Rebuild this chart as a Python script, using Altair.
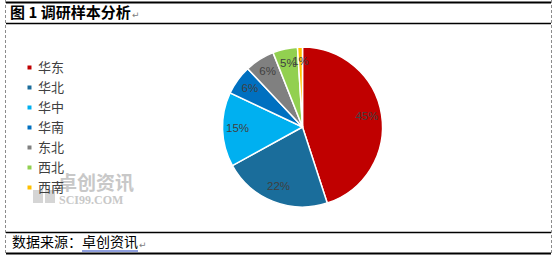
import altair as alt
import pandas as pd

regions = ["华东", "华北", "华中", "华南", "东北", "西北", "西南"]
shares = [45, 22, 15, 6, 6, 5, 1]
labels = ["45%", "22%", "15%", "6%", "6%", "5%", "1%"]
colors = ["#C00000", "#1A6D9B", "#00B0F0", "#0070C0", "#808080", "#92D050", "#FFC000"]

title_text = "图 1 调研样本分析"
source_prefix = "数据来源："
source_name = "卓创资讯"

df = pd.DataFrame({"region": regions, "share": shares, "label": labels,
                   "idx": list(range(len(regions)))})
one = pd.DataFrame({"k": [0]})

CX, CY, R = 302.5, 127, 80

base = alt.Chart(df).encode(
    theta=alt.Theta("share:Q", stack=True),
    order=alt.Order("idx:Q", sort="ascending"),
)

pie = base.mark_arc(outerRadius=R, stroke="white", strokeWidth=1.5).encode(
    x=alt.value(CX), y=alt.value(CY),
    color=alt.Color("region:N", sort=regions,
                    scale=alt.Scale(domain=regions, range=colors),
                    legend=alt.Legend(title=None, orient="none", legendX=23, legendY=61,
                                      symbolType="square", symbolSize=16,
                                      symbolStrokeWidth=0,
                                      labelFontSize=13, labelFont="Noto Sans CJK SC",
                                      labelColor="#404040", rowPadding=6.0,
                                      labelOffset=2)),
)

pct = base.mark_text(radius=65, fontSize=11.5, font="Liberation Sans", color="#404040").encode(
    x=alt.value(CX), y=alt.value(CY), text="label:N",
)

def txt(t, x, y, size, color="#000000", weight="normal", font="Noto Sans CJK SC", align="left"):
    return alt.Chart(one).mark_text(text=t, fontSize=size, color=color, fontWeight=weight,
                                    font=font, align=align, baseline="middle").encode(
        x=alt.value(x), y=alt.value(y))

def rule(x, x2, y, y2, color="#000000", width=1.5, dash=None):
    kw = dict(color=color, strokeWidth=width)
    if dash:
        kw["strokeDash"] = dash
    return alt.Chart(one).mark_rule(**kw).encode(
        x=alt.value(x), x2=alt.value(x2), y=alt.value(y), y2=alt.value(y2))

# watermark
logo1 = alt.Chart(one).mark_rect(color="#d0d0d0", opacity=0.9).encode(
    x=alt.value(33), x2=alt.value(43), y=alt.value(190), y2=alt.value(203))
logo2 = alt.Chart(one).mark_rect(color="#d0d0d0", opacity=0.9).encode(
    x=alt.value(45), x2=alt.value(55), y=alt.value(190), y2=alt.value(203))
wm1 = txt("卓创资讯", 58, 184, 19, color="#c8c8c8", weight="bold")
wm2 = txt("SCI99.COM", 59, 199.5, 12, color="#c8c8c8", weight="bold", font="Liberation Serif")

layers = [
    logo1, logo2, wm1, wm2,
    pie, pct,
    rule(6, 551, 2.5, 2.5, width=2),
    rule(6, 551, 23.5, 23.5, width=1.5),
    rule(6, 551, 232.5, 232.5, width=1.5),
    rule(6, 551, 253.5, 253.5, width=2),
    rule(5.5, 5.5, 0, 255, color="#8c8c8c", width=1, dash=[3, 2]),
    rule(551.5, 551.5, 0, 255, color="#8c8c8c", width=1, dash=[3, 2]),
    txt(title_text, 10, 13, 15, weight="bold"),
    txt("↵", 132, 15, 9, color="#808080", font="DejaVu Sans"),
    txt(source_prefix, 12, 243, 14),
    txt(source_name, 82, 243, 14),
    rule(82, 138, 251, 251, color="#2040c0", width=1.2),
    txt("↵", 139, 245, 9, color="#808080", font="DejaVu Sans"),
]

chart = alt.layer(*layers).properties(
    width=554, height=255, padding=0, autosize=alt.AutoSizeParams(type="none"),
    background="white",
).configure_view(stroke=None)

chart.save("out.html", embed_options={"renderer": "svg", "actions": False})
